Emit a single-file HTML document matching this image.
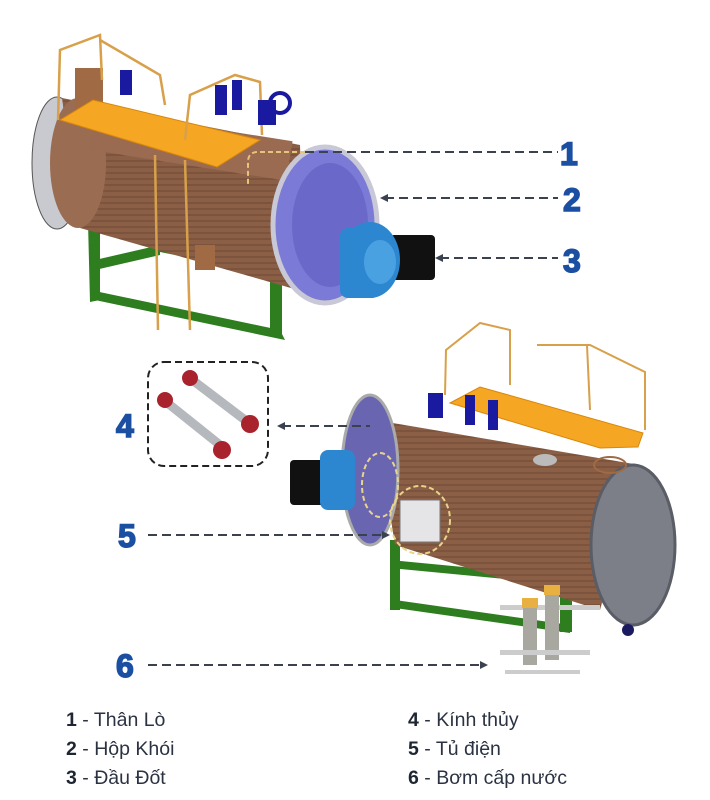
<!DOCTYPE html>
<html><head><meta charset="utf-8"><style>
body{margin:0;background:#fff;width:710px;height:800px;overflow:hidden;font-family:"Liberation Sans",sans-serif}
.num{font-family:"Liberation Sans",sans-serif;font-weight:900;fill:#1b4fa2;stroke:#1b4fa2;stroke-width:1.5;font-size:32px}
.lg{position:absolute;font-size:19.5px;color:#2b3242;white-space:nowrap}
.lg b{color:#1f2633}
</style></head><body>
<svg width="710" height="800" style="position:absolute;left:0;top:0">
<defs>
<pattern id="st" width="6" height="6" patternUnits="userSpaceOnUse"><rect width="6" height="6" fill="#8a5f45"/><line x1="0" y1="5" x2="6" y2="5" stroke="#6e4a35" stroke-width="1"/></pattern>
</defs>
<g>
 <polygon points="88,222 100,222 100,300 90,302" fill="#2e7d1f"/>
 <polygon points="90,290 280,330 285,340 95,300" fill="#2e7d1f"/>
 <polygon points="150,240 300,270 300,280 150,250" fill="#2e7d1f"/>
 <polygon points="270,250 282,250 282,335 270,335" fill="#2e7d1f"/>
 <polygon points="95,260 160,245 160,255 95,270" fill="#2e7d1f"/>
 <ellipse cx="57" cy="163" rx="25" ry="66" fill="#c9c9d0" stroke="#555"/>
 <polygon points="62,98 300,145 305,292 80,228" fill="url(#st)"/>
 <ellipse cx="78" cy="163" rx="28" ry="65" fill="#9a6d52"/>
 <rect x="95" y="110" width="200" height="40" fill="#9a6b50" transform="rotate(9 95 110)"/>
 <rect x="75" y="68" width="28" height="50" fill="#a06a45"/>
 <rect x="195" y="245" width="20" height="25" fill="#a06a45"/>
 <polygon points="60,120 93,100 260,140 217,167" fill="#f5a623" stroke="#d9870a"/>
 <polyline points="58,120 60,50 100,35 102,80" fill="none" stroke="#d8a04a" stroke-width="2.5"/>
 <polyline points="100,40 160,75 165,105" fill="none" stroke="#d8a04a" stroke-width="2.5"/>
 <polyline points="185,140 190,95 235,75 260,82 262,135" fill="none" stroke="#d8a04a" stroke-width="2.5"/>
 <line x1="155" y1="155" x2="158" y2="330" stroke="#d8a04a" stroke-width="2.5"/>
 <line x1="185" y1="160" x2="190" y2="330" stroke="#d8a04a" stroke-width="2.5"/>
 <rect x="120" y="70" width="12" height="25" fill="#1a1aa0"/>
 <rect x="215" y="85" width="12" height="30" fill="#1a1aa0"/>
 <rect x="232" y="80" width="10" height="30" fill="#1a1aa0"/>
 <circle cx="280" cy="103" r="10" fill="none" stroke="#1a1aa0" stroke-width="4"/>
 <rect x="258" y="100" width="18" height="25" fill="#1a1aa0"/>
 <ellipse cx="325" cy="225" rx="52" ry="78" fill="#7b7ad6" stroke="#c8c8d6" stroke-width="5"/>
 <ellipse cx="330" cy="225" rx="38" ry="62" fill="#6a68c8"/>
 <rect x="390" y="235" width="45" height="45" rx="4" fill="#111"/>
 <ellipse cx="370" cy="260" rx="30" ry="38" fill="#2d86d0"/>
 <rect x="340" y="228" width="40" height="70" rx="8" fill="#2d86d0"/>
 <ellipse cx="380" cy="262" rx="16" ry="22" fill="#4aa1e2"/>
 <path d="M305,152 H258 Q248,152 248,162 V185" fill="none" stroke="#e8c37a" stroke-width="2" stroke-dasharray="5,3"/>
</g>
<g>
 <polygon points="390,540 400,540 400,610 390,610" fill="#2e7d1f"/>
 <polygon points="395,600 570,625 570,633 395,608" fill="#2e7d1f"/>
 <polygon points="390,560 600,580 600,588 390,568" fill="#2e7d1f"/>
 <polygon points="560,590 572,590 572,632 560,632" fill="#2e7d1f"/>
 <polygon points="375,420 640,465 600,610 395,545" fill="url(#st)"/>
 <ellipse cx="370" cy="470" rx="28" ry="75" fill="#6a65b0" stroke="#aaa" stroke-width="3"/>
 <ellipse cx="633" cy="545" rx="42" ry="80" fill="#7c7f88" stroke="#5a5d66" stroke-width="3"/>
 <polygon points="450,403 480,387 643,433 638,447 600,448" fill="#f5a623" stroke="#d9870a"/>
 <polyline points="445,395 446,350 480,323 510,330 510,385" fill="none" stroke="#d8a04a" stroke-width="2"/>
 <polyline points="537,345 590,345 645,372 645,430" fill="none" stroke="#d8a04a" stroke-width="2"/>
 <line x1="587" y1="345" x2="590" y2="410" stroke="#d8a04a" stroke-width="2"/>
 <rect x="428" y="393" width="15" height="25" fill="#1a1aa0"/>
 <rect x="465" y="395" width="10" height="30" fill="#1a1aa0"/>
 <rect x="488" y="400" width="10" height="30" fill="#1a1aa0"/>
 <ellipse cx="545" cy="460" rx="12" ry="6" fill="#bbb"/>
 <ellipse cx="610" cy="465" rx="16" ry="8" fill="none" stroke="#a06a45" stroke-width="2"/>
 <rect x="290" y="460" width="45" height="45" rx="4" fill="#111"/>
 <rect x="320" y="450" width="35" height="60" rx="8" fill="#2d86d0"/>
 <rect x="400" y="500" width="40" height="42" fill="#e5e5e8" stroke="#777"/>
 <ellipse cx="380" cy="485" rx="18" ry="32" fill="none" stroke="#e8d48a" stroke-width="2" stroke-dasharray="5,3"/>
 <ellipse cx="420" cy="520" rx="30" ry="34" fill="none" stroke="#e8d48a" stroke-width="2" stroke-dasharray="5,3"/>
 <rect x="500" y="605" width="100" height="5" fill="#ccc"/>
 <rect x="523" y="605" width="14" height="60" fill="#a8a8a0"/>
 <rect x="545" y="590" width="14" height="70" fill="#a8a8a0"/>
 <rect x="522" y="598" width="16" height="10" fill="#e8b040"/>
 <rect x="544" y="585" width="16" height="10" fill="#e8b040"/>
 <rect x="500" y="650" width="90" height="5" fill="#ccc"/>
 <rect x="505" y="670" width="75" height="4" fill="#ccc"/>
 <circle cx="628" cy="630" r="6" fill="#1a1a60"/>
</g>
<rect x="148" y="362" width="120" height="104" rx="16" fill="#fff" stroke="#222" stroke-width="2" stroke-dasharray="7,4"/>
<g stroke="#b5b8bc" stroke-width="9" stroke-linecap="round"><line x1="195" y1="382" x2="245" y2="420"/><line x1="170" y1="405" x2="220" y2="445"/></g>
<g fill="#a8232c"><circle cx="190" cy="378" r="8"/><circle cx="250" cy="424" r="9"/><circle cx="165" cy="400" r="8"/><circle cx="222" cy="450" r="9"/></g>
<g stroke="#3a4250" stroke-width="2" stroke-dasharray="9,5" fill="none">
 <line x1="305" y1="152" x2="558" y2="152"/>
 <line x1="385" y1="198" x2="558" y2="198"/>
 <line x1="440" y1="258" x2="558" y2="258"/>
 <line x1="282" y1="426" x2="370" y2="426"/>
 <line x1="148" y1="535" x2="385" y2="535"/>
 <line x1="148" y1="665" x2="482" y2="665"/>
</g>
<g fill="#3a4250">
 <polygon points="380,198 388,194 388,202"/>
 <polygon points="435,258 443,254 443,262"/>
 <polygon points="277,426 285,422 285,430"/>
 <polygon points="390,535 382,531 382,539"/>
 <polygon points="488,665 480,661 480,669"/>
</g>
<text class="num" x="560" y="165">1</text>
<text class="num" x="563" y="211">2</text>
<text class="num" x="563" y="272">3</text>
<text class="num" x="116" y="437">4</text>
<text class="num" x="118" y="547">5</text>
<text class="num" x="116" y="677">6</text>
</svg>
<div class="lg" style="left:66px;top:709px"><b>1</b> - Thân Lò</div>
<div class="lg" style="left:66px;top:738px"><b>2</b> - Hộp Khói</div>
<div class="lg" style="left:66px;top:767px"><b>3</b> - Đầu Đốt</div>
<div class="lg" style="left:408px;top:709px"><b>4</b> - Kính thủy</div>
<div class="lg" style="left:408px;top:738px"><b>5</b> - Tủ điện</div>
<div class="lg" style="left:408px;top:767px"><b>6</b> - Bơm cấp nước</div>
</body></html>
